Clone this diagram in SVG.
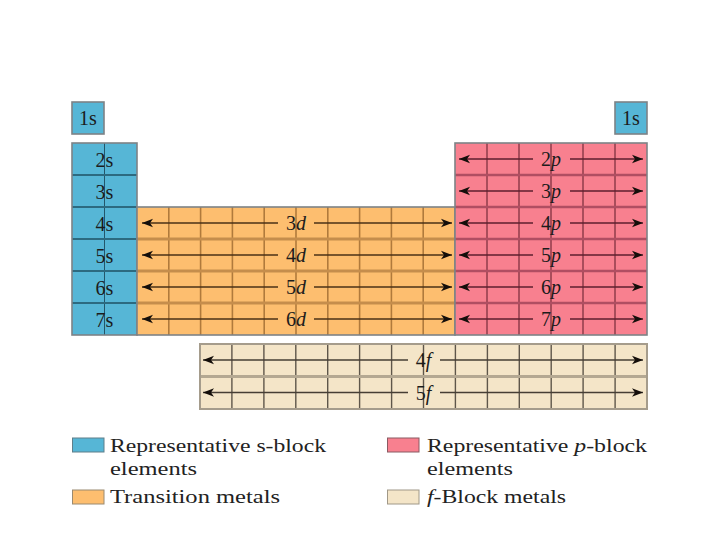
<svg xmlns="http://www.w3.org/2000/svg" width="720" height="540" viewBox="0 0 720 540">
<style>
.lbl{font-family:"Liberation Serif","Times New Roman",serif;font-size:20px;fill:#1c1c1c;text-anchor:middle}
.it{font-style:italic}
.leg{font-family:"Liberation Serif","Times New Roman",serif;font-size:19px;fill:#222}
.sfill{fill:#56b6d6}
.dfill{fill:#fdbe6f}
.pfill{fill:#f8808f}
.ffill{fill:#f4e5c8}
.out{fill:none;stroke:#7d8386;stroke-width:1.6}
.ssep{stroke:#2c6a80;stroke-width:2}
.svert{stroke:#23566a;stroke-width:1}
.dsep{stroke:#c58d4c;stroke-width:3}
.dvert{stroke:#b07a3c;stroke-width:1.6}
.psep{stroke:#b04e62;stroke-width:2.5}
.pvert{stroke:#96404f;stroke-width:1.6}
.fsep{stroke:#b4a892;stroke-width:3}
.fvert{stroke:#5e564a;stroke-width:1.4}
.arr{fill:none;stroke-width:1.4}
.da{stroke:#4a3016}
.pa{stroke:#5e1f2e}
.fa{stroke:#463e34}
</style>
<defs>
<marker id="ah" viewBox="-1 -6 14 12" markerWidth="14" markerHeight="12" refX="11" refY="0" orient="auto-start-reverse" markerUnits="userSpaceOnUse">
<path d="M0,-4.2 L11,0 L0,4.2 L3,0 Z" fill="#140e0a"/>
</marker>
</defs>

<g id="s-block">
<rect class="sfill" x="72" y="102" width="32" height="32"/>
<rect class="out" x="72" y="102" width="32" height="32"/>
<text class="lbl" x="88" y="125">1s</text>
<rect class="sfill" x="72" y="143" width="65" height="192"/>
<line class="svert" x1="104.5" y1="143" x2="104.5" y2="335"/>
<line class="ssep" x1="72" y1="175" x2="137" y2="175"/>
<line class="ssep" x1="72" y1="207" x2="137" y2="207"/>
<line class="ssep" x1="72" y1="239" x2="137" y2="239"/>
<line class="ssep" x1="72" y1="271" x2="137" y2="271"/>
<line class="ssep" x1="72" y1="303" x2="137" y2="303"/>
<rect class="out" x="72" y="143" width="65" height="192"/>
<text class="lbl" x="104.5" y="167">2s</text>
<text class="lbl" x="104.5" y="199">3s</text>
<text class="lbl" x="104.5" y="231">4s</text>
<text class="lbl" x="104.5" y="263">5s</text>
<text class="lbl" x="104.5" y="295">6s</text>
<text class="lbl" x="104.5" y="327">7s</text>
</g>

<g id="s-block-he">
<rect class="sfill" x="615" y="102" width="32" height="32"/>
<rect class="out" x="615" y="102" width="32" height="32"/>
<text class="lbl" x="631" y="125">1s</text>
</g>

<g id="d-block">
<rect class="dfill" x="137" y="207" width="318" height="128"/>
<line class="dvert" x1="168.8" y1="207" x2="168.8" y2="335"/>
<line class="dvert" x1="200.6" y1="207" x2="200.6" y2="335"/>
<line class="dvert" x1="232.4" y1="207" x2="232.4" y2="335"/>
<line class="dvert" x1="264.2" y1="207" x2="264.2" y2="335"/>
<line class="dvert" x1="296" y1="207" x2="296" y2="335"/>
<line class="dvert" x1="327.8" y1="207" x2="327.8" y2="335"/>
<line class="dvert" x1="359.6" y1="207" x2="359.6" y2="335"/>
<line class="dvert" x1="391.4" y1="207" x2="391.4" y2="335"/>
<line class="dvert" x1="423.2" y1="207" x2="423.2" y2="335"/>
<line class="dsep" x1="137" y1="239" x2="455" y2="239"/>
<line class="dsep" x1="137" y1="271" x2="455" y2="271"/>
<line class="dsep" x1="137" y1="303" x2="455" y2="303"/>
<rect class="out" x="137" y="207" width="318" height="128"/>
</g>

<g id="p-block">
<rect class="pfill" x="455" y="143" width="192" height="192"/>
<line class="pvert" x1="487" y1="143" x2="487" y2="335"/>
<line class="pvert" x1="519" y1="143" x2="519" y2="335"/>
<line class="pvert" x1="551" y1="143" x2="551" y2="335"/>
<line class="pvert" x1="583" y1="143" x2="583" y2="335"/>
<line class="pvert" x1="615" y1="143" x2="615" y2="335"/>
<line class="psep" x1="455" y1="175" x2="647" y2="175"/>
<line class="psep" x1="455" y1="207" x2="647" y2="207"/>
<line class="psep" x1="455" y1="239" x2="647" y2="239"/>
<line class="psep" x1="455" y1="271" x2="647" y2="271"/>
<line class="psep" x1="455" y1="303" x2="647" y2="303"/>
<rect class="out" x="455" y="143" width="192" height="192"/>
</g>

<g id="f-block">
<rect class="ffill" x="200" y="344" width="447" height="65"/>
<line class="fvert" x1="231.9" y1="344" x2="231.9" y2="409"/>
<line class="fvert" x1="263.9" y1="344" x2="263.9" y2="409"/>
<line class="fvert" x1="295.8" y1="344" x2="295.8" y2="409"/>
<line class="fvert" x1="327.7" y1="344" x2="327.7" y2="409"/>
<line class="fvert" x1="359.6" y1="344" x2="359.6" y2="409"/>
<line class="fvert" x1="391.6" y1="344" x2="391.6" y2="409"/>
<line class="fvert" x1="423.5" y1="344" x2="423.5" y2="409"/>
<line class="fvert" x1="455.4" y1="344" x2="455.4" y2="409"/>
<line class="fvert" x1="487.4" y1="344" x2="487.4" y2="409"/>
<line class="fvert" x1="519.3" y1="344" x2="519.3" y2="409"/>
<line class="fvert" x1="551.2" y1="344" x2="551.2" y2="409"/>
<line class="fvert" x1="583.1" y1="344" x2="583.1" y2="409"/>
<line class="fvert" x1="615.1" y1="344" x2="615.1" y2="409"/>
<line class="fsep" x1="200" y1="376.5" x2="647" y2="376.5"/>
<rect fill="none" stroke="#a59c8c" stroke-width="2" x="200" y="344" width="447" height="65"/>
</g>

<g id="connectors">
<line class="arr da" x1="142" y1="223" x2="278" y2="223" marker-start="url(#ah)"/>
<line class="arr da" x1="314" y1="223" x2="452" y2="223" marker-end="url(#ah)"/>
<line class="arr da" x1="142" y1="255" x2="278" y2="255" marker-start="url(#ah)"/>
<line class="arr da" x1="314" y1="255" x2="452" y2="255" marker-end="url(#ah)"/>
<line class="arr da" x1="142" y1="287" x2="278" y2="287" marker-start="url(#ah)"/>
<line class="arr da" x1="314" y1="287" x2="452" y2="287" marker-end="url(#ah)"/>
<line class="arr da" x1="142" y1="319" x2="278" y2="319" marker-start="url(#ah)"/>
<line class="arr da" x1="314" y1="319" x2="452" y2="319" marker-end="url(#ah)"/>

<line class="arr pa" x1="459" y1="159" x2="533" y2="159" marker-start="url(#ah)"/>
<line class="arr pa" x1="570" y1="159" x2="643" y2="159" marker-end="url(#ah)"/>
<line class="arr pa" x1="459" y1="191" x2="533" y2="191" marker-start="url(#ah)"/>
<line class="arr pa" x1="570" y1="191" x2="643" y2="191" marker-end="url(#ah)"/>
<line class="arr pa" x1="459" y1="223" x2="533" y2="223" marker-start="url(#ah)"/>
<line class="arr pa" x1="570" y1="223" x2="643" y2="223" marker-end="url(#ah)"/>
<line class="arr pa" x1="459" y1="255" x2="533" y2="255" marker-start="url(#ah)"/>
<line class="arr pa" x1="570" y1="255" x2="643" y2="255" marker-end="url(#ah)"/>
<line class="arr pa" x1="459" y1="287" x2="533" y2="287" marker-start="url(#ah)"/>
<line class="arr pa" x1="570" y1="287" x2="643" y2="287" marker-end="url(#ah)"/>
<line class="arr pa" x1="459" y1="319" x2="533" y2="319" marker-start="url(#ah)"/>
<line class="arr pa" x1="570" y1="319" x2="643" y2="319" marker-end="url(#ah)"/>

<line class="arr fa" x1="203" y1="360" x2="408" y2="360" marker-start="url(#ah)"/>
<line class="arr fa" x1="440" y1="360" x2="643" y2="360" marker-end="url(#ah)"/>
<line class="arr fa" x1="203" y1="392.5" x2="408" y2="392.5" marker-start="url(#ah)"/>
<line class="arr fa" x1="440" y1="392.5" x2="643" y2="392.5" marker-end="url(#ah)"/>
</g>

<g id="labels">
<text class="lbl" x="296" y="230">3<tspan class="it">d</tspan></text>
<text class="lbl" x="296" y="262">4<tspan class="it">d</tspan></text>
<text class="lbl" x="296" y="294">5<tspan class="it">d</tspan></text>
<text class="lbl" x="296" y="326">6<tspan class="it">d</tspan></text>
<text class="lbl" x="551" y="166">2<tspan class="it">p</tspan></text>
<text class="lbl" x="551" y="198">3<tspan class="it">p</tspan></text>
<text class="lbl" x="551" y="230">4<tspan class="it">p</tspan></text>
<text class="lbl" x="551" y="262">5<tspan class="it">p</tspan></text>
<text class="lbl" x="551" y="294">6<tspan class="it">p</tspan></text>
<text class="lbl" x="551" y="326">7<tspan class="it">p</tspan></text>
<text class="lbl" x="423.5" y="367">4<tspan class="it">f</tspan></text>
<text class="lbl" x="423.5" y="399.5">5<tspan class="it">f</tspan></text>
</g>

<g id="legend">
<rect class="sfill" x="72.5" y="438" width="31.5" height="14" stroke="#5f7f8a" stroke-width="1"/>
<text class="leg" x="110" y="451.5" textLength="216" lengthAdjust="spacingAndGlyphs">Representative s-block</text>
<text class="leg" x="110" y="475" textLength="87" lengthAdjust="spacingAndGlyphs">elements</text>
<rect class="dfill" x="72.5" y="490" width="31.5" height="14" stroke="#9a8a70" stroke-width="1"/>
<text class="leg" x="110" y="502.5" textLength="170" lengthAdjust="spacingAndGlyphs">Transition metals</text>
<rect class="pfill" x="387.5" y="438" width="31.5" height="14" stroke="#8a5a62" stroke-width="1"/>
<text class="leg" x="427" y="451.5" textLength="220" lengthAdjust="spacingAndGlyphs">Representative <tspan class="it">p</tspan>-block</text>
<text class="leg" x="427" y="475" textLength="86" lengthAdjust="spacingAndGlyphs">elements</text>
<rect class="ffill" x="387.5" y="490" width="31.5" height="14" stroke="#a09888" stroke-width="1"/>
<text class="leg" x="427" y="502.5" textLength="139" lengthAdjust="spacingAndGlyphs"><tspan class="it">f</tspan>-Block metals</text>
</g>
</svg>
